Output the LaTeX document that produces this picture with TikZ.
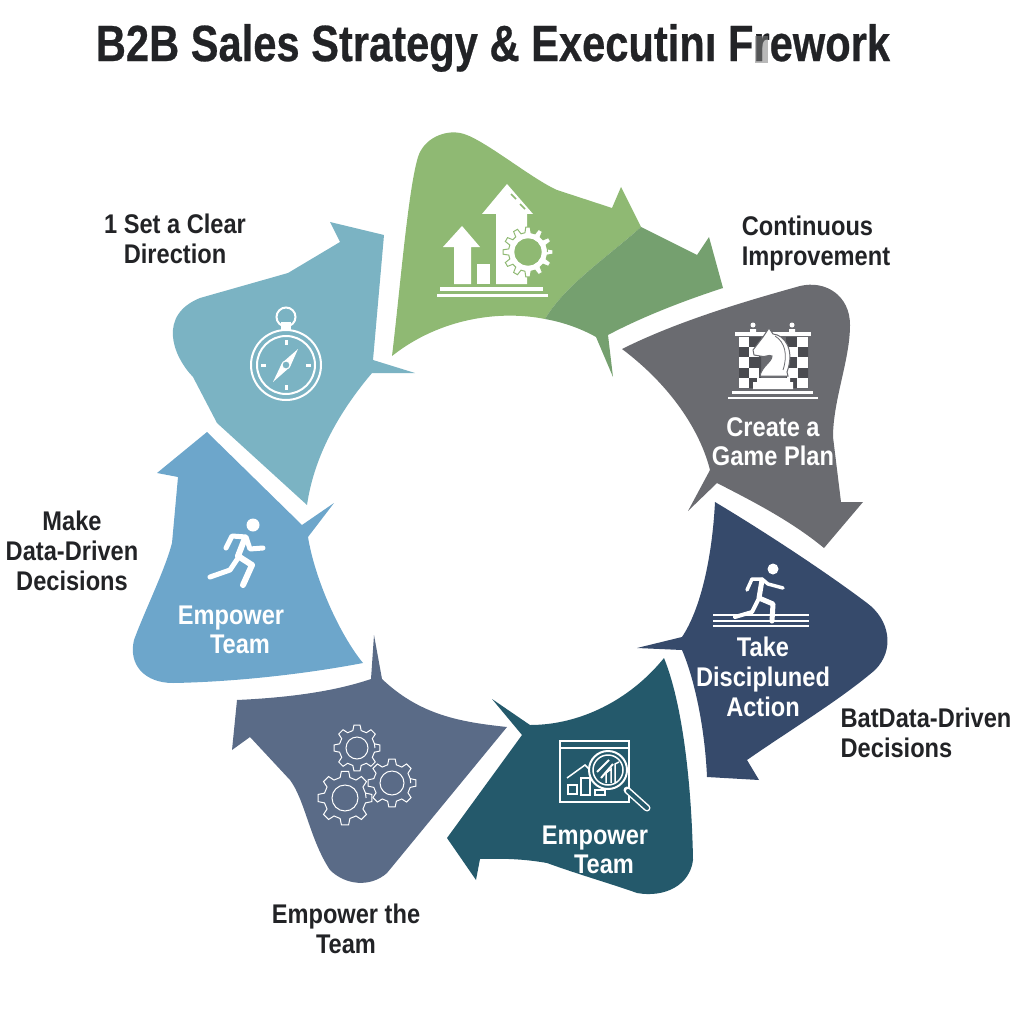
\documentclass[tikz,border=0pt]{standalone}
\usepackage{xcolor}
\usepackage{tikz}
\usepackage{fontspec}
\setmainfont{Liberation Sans}[FakeStretch=0.875]
\newfontfamily\titlefont{Liberation Sans}[FakeStretch=0.817, FakeBold=0.5]

\definecolor{leafgreen}{HTML}{8FB973}
\definecolor{deepgreen}{HTML}{75A06F}
\definecolor{slategray}{HTML}{6A6B70}
\definecolor{darkgray}{HTML}{4A4B50}
\definecolor{navyblue}{HTML}{364A6B}
\definecolor{seateal}{HTML}{24596B}
\definecolor{dustyblue}{HTML}{5A6B87}
\definecolor{skyblue}{HTML}{6DA6CB}
\definecolor{paleteal}{HTML}{7BB3C3}
\definecolor{inkblack}{HTML}{222326}

\tikzset{
    titletext/.style={font=\titlefont\bfseries\fontsize{51}{54}\selectfont, text=inkblack},
    darklabel/.style={font=\bfseries\fontsize{27}{30}\selectfont, text=inkblack, align=center},
    whitelabel/.style={font=\bfseries\fontsize{27}{29}\selectfont, text=white, align=center},
    iconline/.style={draw=white, line width=2pt},
    limb/.style={draw=white, line cap=round, line join=round}
}

% gear outline: options, x, y, outer radius, hole radius, angle between teeth
\newcommand{\gearicon}[6]{
    \begin{scope}[shift={(#2,#3)}]
        \pgfmathsetmacro{\rootr}{#4*0.78}
        \pgfmathsetmacro{\nextang}{#6}
        \draw[#1] (0:\rootr) \foreach \a in {0,\nextang,...,359} {
            -- ({\a-0.30*#6}:\rootr) -- ({\a-0.17*#6}:#4) -- ({\a+0.17*#6}:#4)
            -- ({\a+0.30*#6}:\rootr) -- ({\a+0.70*#6}:\rootr) } -- cycle;
        \draw[#1] (0,0) circle (#5);
    \end{scope}
}

\begin{document}
\begin{tikzpicture}[x=1pt,y=-1pt]
    \useasboundingbox (0,0) rectangle (1024,1024);

    % Title
    \node[titletext] (title) at (493,48) {B2B Sales Strategy \& Executinı Frework};
    \fill[gray, opacity=0.55] (755,36) rectangle (768,63);

    % Green arrow
    \fill[leafgreen] (392,356) .. controls (400,290) and (408,190) .. (418,157)
        .. controls (424,138) and (445,130) .. (460,133)
        .. controls (480,136) and (530,178) .. (557,190)
        -- (612,208) -- (621,187) -- (641,227)
        .. controls (610,255) and (565,285) .. (545,319)
        .. controls (500,310) and (440,318) .. (392,356) -- cycle;
    \fill[deepgreen] (641,227) -- (697,255) -- (709,237) -- (723,288)
        .. controls (680,302) and (640,318) .. (608,335)
        -- (613,377) -- (596,337)
        .. controls (580,328) and (562,322) .. (545,319)
        .. controls (565,285) and (610,255) .. (641,227) -- cycle;

    % Green icon
    \fill[white] (462,226) -- (480,247) -- (471,247) -- (471,284) -- (454,284) -- (454,247) -- (443,247) -- cycle;
    \fill[white] (477,264) rectangle (490,284);
    \fill[white] (507,184) -- (533,214) -- (527,214) -- (527,284) -- (496,284) -- (496,214) -- (482,214) -- cycle;
    \draw[leafgreen, line width=1.5pt] (511,194) -- (516,199) (520,204) -- (525,209);
    \gearicon{fill=white, draw=leafgreen, line width=1pt}{528}{252}{25}{13}{30}
    \fill[leafgreen] (528,252) circle (13.5);
    \fill[white] (440,287) rectangle (543,291);
    \fill[white] (437,294) rectangle (548,297);

    % Gray arrow
    \fill[slategray] (622,349) .. controls (680,320) and (750,300) .. (800,286)
        .. controls (825,280) and (850,295) .. (850,325)
        .. controls (850,360) and (833,400) .. (833,437)
        -- (841,502) -- (863,502) -- (824,548)
        .. controls (790,520) and (750,500) .. (717,483)
        -- (688,511) -- (710,470)
        .. controls (700,430) and (670,385) .. (622,349) -- cycle;

    % Chess icon
    \fill[darkgray] (739,337) rectangle (761,388) (786,337) rectangle (808,388);
    \foreach \row in {0,1,2,3,4} {
        \pgfmathsetmacro{\ytop}{337+\row*10.2}
        \pgfmathsetmacro{\leftshade}{mod(\row,2)==0 ? 739 : 749}
        \pgfmathsetmacro{\rightshade}{mod(\row,2)==0 ? 797 : 787}
        \fill[white] (\leftshade,\ytop) rectangle ++(10,10.2);
        \fill[white] (\rightshade,\ytop) rectangle ++(10.5,10.2);
    }
    \fill[white] (735,332) rectangle (811,336);
    \fill[white] (732,391) rectangle (813,394);
    \fill[white] (728,397) rectangle (818,399);
    \fill[white] (753,325) circle (2.5) (792,325) circle (2.5);
    \fill[white] (750,329) rectangle (756,332) (789,329) rectangle (795,332);
    \filldraw[fill=white, draw=slategray, line width=1pt] (760,376)
        .. controls (762,366) and (772,362) .. (772,356)
        .. controls (768,354) and (765,358) .. (760,356)
        -- (754,355) -- (753,350) -- (763,337) -- (769,328) -- (773,334)
        .. controls (785,335) and (795,350) .. (787,372) -- (788,376) -- cycle;
    \draw[slategray, line width=0.8pt] (775,336) .. controls (785,342) and (788,355) .. (783,370);
    \fill[white] (757,378) rectangle (790,382) (753,382) rectangle (793,389);

    \node[whitelabel] (plan) at (773,442) {Create a\\Game Plan};

    % Navy arrow
    \fill[navyblue] (715,502) .. controls (770,535) and (830,575) .. (867,603)
        .. controls (890,620) and (895,650) .. (875,670)
        .. controls (840,700) and (790,730) .. (747,760)
        -- (759,780) -- (707,777)
        .. controls (705,730) and (695,680) .. (682,650)
        -- (637,648) -- (682,637)
        .. controls (700,610) and (712,560) .. (715,502) -- cycle;

    % Runner on track
    \fill[white] (773,569) circle (5.5);
    \draw[limb, line width=3.5pt] (747,590) -- (752,579) -- (762,579) -- (768,584) -- (783,588);
    \draw[limb, line width=5pt] (762,580) -- (759,598) -- (773,604) -- (772,621);
    \draw[limb, line width=4pt] (759,598) -- (752,612) -- (735,617);
    \foreach \ytrack in {615,621,626} {
        \draw[white, line width=1.5pt] (713,\ytrack) -- (809,\ytrack);
    }

    \node[whitelabel, font=\bfseries\fontsize{27}{30}\selectfont] (action) at (763,677) {Take\\Discipluned\\Action};

    % Teal arrow
    \fill[seateal] (664,658) .. controls (630,700) and (580,725) .. (530,725)
        -- (492,699) -- (522,735) -- (447,838) -- (476,880) -- (480,859)
        .. controls (510,858) and (530,860) .. (547,863)
        .. controls (580,875) and (615,885) .. (637,893)
        .. controls (665,898) and (690,885) .. (693,860)
        .. controls (692,800) and (685,710) .. (664,658) -- cycle;

    % Chart and magnifier
    \draw[iconline, line width=1.5pt] (560,741) rectangle (629,802);
    \draw[iconline, line width=1.5pt] (560,748) -- (629,748);
    \draw[iconline, line width=1.5pt] (568,785) rectangle (577,794);
    \draw[iconline, line width=1.5pt] (581,778) rectangle (590,795);
    \draw[iconline, line width=1.5pt] (595,790) rectangle (605,795);
    \draw[iconline, line width=1.5pt] (567,778) -- (585,765) -- (592,772);
    \filldraw[fill=seateal, draw=white, line width=2pt] (608,770) circle (19);
    \draw[iconline, line width=1.5pt] (608,770) circle (15);
    \draw[iconline, line width=2pt] (597,772) -- (609,760);
    \draw[iconline, line width=2pt] (601,778) -- (613,764);
    \draw[iconline, line width=1.5pt] (606,783) -- (606,773) -- (611,769) -- (611,783);
    \draw[iconline, line width=1.5pt] (615,783) -- (615,764) -- (619,762);
    \draw[white, line width=7pt, line cap=round] (627,790) -- (647,808);
    \draw[seateal, line width=4pt, line cap=round] (628,791) -- (647,808);

    \node[whitelabel] (team) at (595,850) {Empower\\\hspace*{18pt}Team};

    % Slate arrow
    \fill[dustyblue] (237,700) .. controls (280,698) and (330,693) .. (371,679)
        -- (374,635) -- (382,679)
        .. controls (420,715) and (460,722) .. (507,727)
        -- (387,873) .. controls (370,888) and (345,885) .. (330,870)
        .. controls (310,840) and (305,800) .. (290,780)
        -- (250,737) -- (232,750) -- cycle;

    % Three gears
    \gearicon{draw=white, line width=1pt}{357}{748}{23}{11}{45}
    \gearicon{draw=white, line width=1pt}{345}{798}{27}{13}{45}
    \gearicon{draw=white, line width=1pt}{392}{783}{24}{12}{45}

    % Blue arrow
    \fill[skyblue] (157,473) -- (207,432) -- (302,525) -- (334,503) -- (308,537)
        .. controls (315,580) and (340,635) .. (363,663)
        .. controls (300,675) and (230,682) .. (173,683)
        .. controls (145,683) and (128,665) .. (134,640)
        .. controls (145,610) and (165,570) .. (172,543)
        -- (178,477) -- cycle;

    % Runner
    \fill[white] (253,525) circle (6.5);
    \draw[limb, line width=5pt] (226,548) -- (232,536) -- (246,537) -- (250,549) -- (263,548);
    \draw[limb, line width=6pt] (245,538) -- (238,556) -- (252,565) -- (243,585);
    \draw[limb, line width=5pt] (238,558) -- (230,570) -- (210,577);

    \node[whitelabel] (empower) at (231,630) {Empower\\\hspace*{18pt}Team};

    % Pale teal arrow
    \fill[paleteal] (330,222) -- (384,235) -- (373,360) -- (415,373) -- (372,373)
        .. controls (345,405) and (315,450) .. (307,505)
        -- (217,423) -- (193,377)
        .. controls (172,355) and (158,315) .. (200,298)
        -- (288,273) -- (340,242) -- cycle;

    % Compass
    \draw[iconline, line width=2pt] (286,365) circle (35);
    \draw[iconline, line width=2pt] (286,365) circle (29);
    \draw[iconline] (286,317) circle (9.5);
    \fill[white] (281,322) rectangle (291,330);
    \foreach \ang in {0,90,180,270} {
        \draw[white, line width=3pt] (\ang:20) ++(286,365) -- ++(\ang:5);
    }
    \fill[white] (298,349) -- (290,367) -- (273,382) -- (282,363) -- cycle;
    \filldraw[fill=paleteal, draw=white, line width=1pt] (286,365) circle (4);

    % Outside labels
    \node[darklabel] (direction) at (175,239) {1 Set a Clear\\Direction};
    \node[darklabel, align=left] (improve) at (816,244) {Continuous\\Improvement};
    \node[darklabel] (datadriven) at (72,551) {Make\\Data-Driven\\Decisions};
    \node[darklabel, align=left] (decisions) at (926,733) {BatData-Driven\\Decisions};
    \node[darklabel] (theteam) at (346,929) {Empower the\\Team};
\end{tikzpicture}
\end{document}
